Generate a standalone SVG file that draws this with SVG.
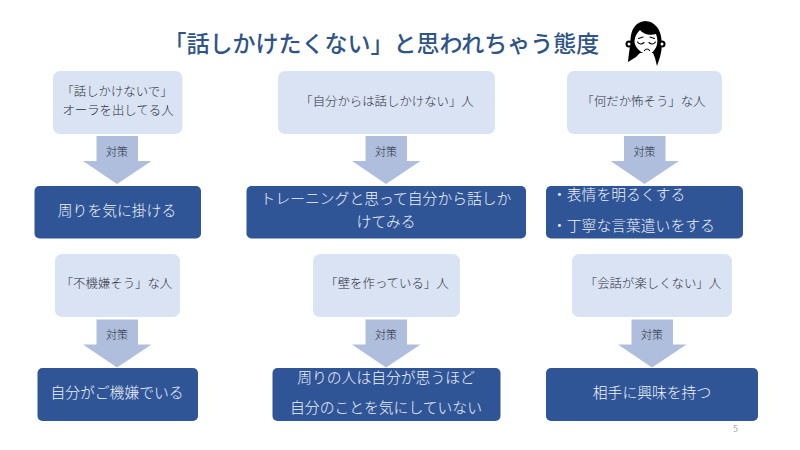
<svg xmlns="http://www.w3.org/2000/svg" width="800" height="450" viewBox="0 0 800 450">
<style>
text{font-family:"Noto Sans CJK JP","Noto Sans",sans-serif}
.t{font-size:23px;font-weight:500;fill:#2f5486}
.l{fill:#dae3f3}
.d{fill:#2f5597}
.a{fill:#b0bedd}
.lt{font-size:12.4px;font-weight:300;fill:#2b3040;text-anchor:middle}
.at{font-size:11px;font-weight:300;fill:#262d3c;text-anchor:middle}
.dt{font-size:14.8px;font-weight:300;fill:#f0f3f9;text-anchor:middle}
.ds{text-anchor:start}
.p{font-size:9px;fill:#a6a6a6}
.k{fill:#000}.w{fill:#fff}.s{fill:none;stroke:#000;stroke-width:1.100;stroke-linecap:round}
</style>
<defs>
<path id="ar" class="a" d="M-20.500 0H21V25H34.500L0 48-34 25H-20.500Z"/>
</defs>
<rect width="800" height="450" fill="#fff"/>
<text id="title" class="t" x="163.500" y="52">「話しかけたくない」と思われちゃう態度</text>
<g id="face">
<path class="k" d="M645 21C635 22 631 30 630.500 40C630 48 628.500 55 628 62L636 57L640 53H653L655 58L657 66L660 57L661.500 50L661.500 40C661 30 655 21 645 21Z"/>
<circle class="k" cx="629" cy="44" r="3.500"/><circle class="k" cx="662" cy="44" r="3.500"/>
<circle class="w" cx="629" cy="44" r="1.500"/><circle class="w" cx="662" cy="44" r="1.500"/>
<path class="w" d="M640 30C643 34 650 36 656 34C658 39 658 45 655 49C652 54 648 55 645 54C640 52 634.500 47 634.500 41C635 36 637 33 640 30Z"/>
<path class="s" d="M637.500 42C639 44.500 642 44.500 644 42.500M649 42.500C651 44.500 654 44.500 655.500 42M638.500 38.500L643 37M650 37L654.500 38.500M644.500 50.500C646 48.500 648 48.500 649.500 50.500"/>
</g>
<g id="connectors">
<use href="#ar" x="117" y="136"/>
<use href="#ar" x="386" y="136"/>
<use href="#ar" x="644.500" y="136"/>
<use href="#ar" x="117" y="319.500"/>
<use href="#ar" x="386" y="319.500"/>
<use href="#ar" x="652" y="319.500"/>
<g class="lbl">
<text class="at" x="117" y="156">対策</text>
<text class="at" x="386" y="156">対策</text>
<text class="at" x="644.500" y="156">対策</text>
<text class="at" x="117" y="339">対策</text>
<text class="at" x="386" y="339">対策</text>
<text class="at" x="652" y="339">対策</text>
</g>
</g>
<g id="n1"><rect class="l" x="53" y="71" width="129.500" height="63" rx="7"/>
<text class="lt" x="117" y="96">「話しかけないで」</text><text class="lt" x="118" y="115">オーラを出してる人</text></g>
<g id="n2"><rect class="l" x="278" y="71" width="217" height="63" rx="7"/>
<text class="lt" x="387" y="106">「自分からは話しかけない」人</text></g>
<g id="n3"><rect class="l" x="567" y="71" width="155" height="63" rx="7"/>
<text class="lt" x="643.500" y="106">「何だか怖そう」な人</text></g>
<g id="n4"><rect class="d" x="34.500" y="186" width="166.500" height="52.500" rx="5"/>
<text class="dt" x="117" y="216">周りを気に掛ける</text></g>
<g id="n5"><rect class="d" x="246.500" y="186" width="279.500" height="52.500" rx="5"/>
<text class="dt" x="386" y="204">トレーニングと思って自分から話しか</text><text class="dt" x="386" y="227">けてみる</text></g>
<g id="n6"><rect class="d" x="546" y="186" width="197" height="52.500" rx="5"/>
<text class="dt ds" x="552" y="200">・表情を明るくする</text><text class="dt ds" x="552" y="231">・丁寧な言葉遣いをする</text></g>
<g id="n7"><rect class="l" x="55" y="254" width="125" height="63" rx="7"/>
<text class="lt" x="116.500" y="287.500">「不機嫌そう」な人</text></g>
<g id="n8"><rect class="l" x="313" y="254" width="147" height="63" rx="7"/>
<text class="lt" x="387" y="287.500">「壁を作っている」人</text></g>
<g id="n9"><rect class="l" x="572" y="254" width="160" height="63" rx="7"/>
<text class="lt" x="653" y="287.500">「会話が楽しくない」人</text></g>
<g id="n10"><rect class="d" x="37.500" y="368" width="160.500" height="53" rx="5"/>
<text class="dt" x="117" y="398">自分がご機嫌でいる</text></g>
<g id="n11"><rect class="d" x="272.500" y="368" width="228" height="53" rx="5"/>
<text class="dt" x="386" y="383">周りの人は自分が思うほど</text><text class="dt" x="386" y="413">自分のことを気にしていない</text></g>
<g id="n12"><rect class="d" x="546" y="368" width="212" height="53" rx="5"/>
<text class="dt" x="652" y="398">相手に興味を持つ</text></g>
<text class="p" x="733" y="432">5</text>
</svg>
